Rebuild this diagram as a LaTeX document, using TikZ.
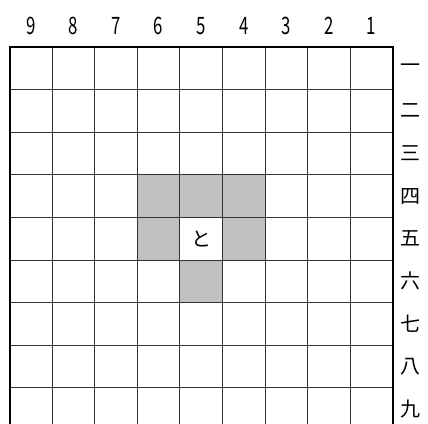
\documentclass[tikz,border=0pt]{standalone}
\usepackage{fontspec}
\newfontfamily\jpfont{Noto Sans CJK JP}
\definecolor{movegray}{RGB}{192,192,192}

\begin{document}
\begin{tikzpicture}[
            x=1pt, y=-1pt,
            every node/.style={font=\jpfont\fontsize{20}{20}\selectfont, inner sep=0pt},
            filenum/.style={font=\jpfont\fontsize{24}{24}\selectfont, xscale=0.7},
            gridline/.style={line width=1pt, black!80},
            frameline/.style={line width=2pt, black}
        ]
            \useasboundingbox (0,0) rectangle (428,423);
            \clip (0,0) rectangle (428,423);
            \def\cs{42.6}
            \def\ox{9.5}
            \def\oy{47}

            % Squares the piece can move to
            \foreach \f/\r in {6/4,5/4,4/4,6/5,4/5,5/6}
                \fill[movegray] ({\ox+(9-\f)*\cs},{\oy+(\r-1)*\cs}) rectangle ++(\cs,\cs);

            % Grid
            \foreach \i in {1,...,8}
                \draw[gridline] ({\ox+\i*\cs},\oy) -- ({\ox+\i*\cs},430);
            \foreach \j in {1,...,9}
                \draw[gridline] (\ox,{\oy+\j*\cs}) -- ({\ox+9*\cs},{\oy+\j*\cs});
            \draw[frameline] (\ox,430) -- (\ox,\oy) -- ({\ox+9*\cs},\oy) -- ({\ox+9*\cs},430);

            % File numbers
            \foreach \f in {9,...,1}
                \node[filenum] (file\f) at ({\ox+(9.5-\f)*\cs},26) {\f};

            % Rank numbers
            \foreach \r/\k in {1/一,2/二,3/三,4/四,5/五,6/六,7/七,8/八,9/九}
                \node (rank\r) at (410,{\oy+(\r-0.5)*\cs}) {\k};

            % Piece
            \node (tokin) at ({\ox+4.5*\cs},{\oy+4.5*\cs}) {と};
        \end{tikzpicture}
\end{document}
